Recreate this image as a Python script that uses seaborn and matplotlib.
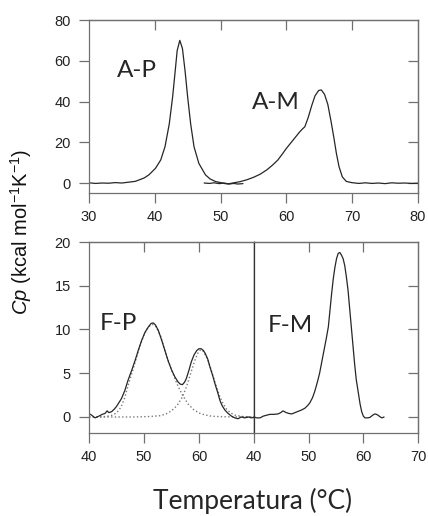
import numpy as np
import pandas as pd
import matplotlib
matplotlib.use("Agg")
import matplotlib.pyplot as plt
import seaborn as sns

# ---- DSC traces: temperature (°C) and excess heat capacity (kcal mol-1 K-1) ----
ap_T = [30, 31, 32, 33, 34, 35, 36, 37, 37.6, 38.4, 39.1, 40.1, 40.9, 41.55, 42.2, 42.7,
        43.1, 43.4, 43.8, 44.2, 44.6, 45.0, 45.45, 45.96, 46.7, 47.7, 48.4, 49.25, 50.0,
        50.7, 51.3, 52.0, 52.6, 53.4]
ap_cp = [0.1, -0.2, 0.0, -0.1, 0.2, 0.0, 0.4, 0.8, 1.5, 2.5, 4.0, 7.2, 11.3, 17.8, 29, 42,
         55, 65, 70, 66, 55, 42, 29, 17.8, 9.6, 4.0, 2.0, 0.7, 0.2, -0.3, -0.5, -0.2, -0.5, -0.3]

am_T = [47.5, 48.3, 49, 49.8, 50.5, 51.2, 52.0, 52.95, 54, 55, 56, 57, 57.9, 58.7, 59.4, 60,
        60.5, 61, 61.5, 62, 62.4, 62.8, 63.3, 63.85, 64.35, 64.9, 65.3, 65.8, 66.3, 66.8, 67.2,
        67.6, 68.0, 68.5, 69.1, 69.9, 71, 72, 73, 74, 75, 76, 77, 78, 79, 80]
am_cp = [0.0, -0.2, 0.1, -0.3, 0.0, -0.4, 0.1, 0.65, 1.6, 2.8, 4.3, 6.4, 8.8, 11.3, 14.3, 17,
         19, 21, 23, 25, 26.4, 27.6, 32, 38, 42.8, 45.4, 45.7, 43.5, 38.5, 30, 22.5,
         14.5, 8.0, 3.0, 0.8, 0.2, -0.2, 0.1, -0.2, 0.0, -0.3, 0.1, -0.1, 0.0, -0.2, -0.1]

fp_T = [40, 40.5, 41.1, 41.8, 42.4, 42.9, 43.3, 43.6, 44.1, 44.6, 45.0, 45.9, 46.5, 47.1, 47.8,
        48.4, 49.0, 49.6, 50.2, 50.8, 51.3, 51.7, 52.1, 52.6, 53.2, 53.8, 54.4, 55.0, 55.6,
        56.2, 56.6, 57.0, 57.4, 57.7, 58.2, 58.6, 59.1, 59.6, 60.0, 60.4, 60.8, 61.1, 61.6,
        62.0, 62.5, 62.9, 63.4, 63.8, 64.2, 64.7, 65.3, 65.9, 66.5, 67.1, 67.7, 68.3, 69, 69.5, 70]
fp_cp = [0.4, 0.2, -0.1, 0.1, 0.3, 0.4, 0.7, 0.5, 0.6, 0.9, 1.2, 2.1, 3.0, 4.2, 5.4,
         6.5, 7.7, 8.8, 9.7, 10.3, 10.7, 10.75, 10.5, 9.9, 8.8, 7.6, 6.4, 5.4, 4.6,
         4.0, 3.75, 3.7, 4.0, 4.4, 5.4, 6.3, 7.1, 7.6, 7.8, 7.8, 7.6, 7.3, 6.6,
         5.7, 4.7, 3.8, 2.8, 1.9, 1.3, 0.8, 0.4, 0.1, -0.1, -0.2, 0.0, -0.1, 0.0, -0.1, -0.05]

# deconvolved components of F-P
fp1_T = [40, 42, 43, 44, 45, 45.8, 46.5, 47.1, 47.8, 48.4, 49.2, 50, 50.8, 51.5, 52.2, 53,
         53.6, 54.2, 55, 55.6, 56.2, 57, 58, 59, 60, 61, 62, 63, 65, 70]
fp1_cp = [0, 0.02, 0.05, 0.15, 0.45, 1.1, 2.2, 3.6, 5.0, 6.3, 8.0, 9.4, 10.3, 10.6, 10.3, 9.3,
          8.0, 6.8, 5.4, 4.4, 3.5, 2.5, 1.5, 0.85, 0.45, 0.25, 0.12, 0.06, 0.02, 0]
fp2_T = [40, 48, 51, 53, 54, 55, 56, 57, 57.8, 58.5, 59.2, 59.8, 60.3, 60.8, 61.4, 62, 62.6,
         63.2, 63.8, 64.4, 65, 65.8, 66.6, 68, 70]
fp2_cp = [0, 0, 0.05, 0.15, 0.35, 0.7, 1.3, 2.3, 3.6, 5.0, 6.4, 7.3, 7.7, 7.5, 6.8, 5.8, 4.6,
          3.4, 2.3, 1.5, 0.9, 0.45, 0.2, 0.05, 0]

fm_T = [40, 40.5, 41.1, 41.7, 42.3, 42.9, 43.6, 44.4, 44.9, 45.3, 45.6, 45.9, 46.4, 46.9, 47.5,
        48.1, 48.7, 49.3, 49.8, 50.2, 50.7, 51.1, 51.6, 52.0, 52.4, 52.8, 53.2, 53.6, 53.9,
        54.2, 54.5, 54.8, 55.1, 55.4, 55.7, 56.0, 56.3, 56.6, 56.9, 57.2, 57.5, 57.8, 58.1,
        58.4, 58.7, 59.1, 59.4, 59.7, 60.0, 60.3, 60.8, 61.2, 61.7, 62.1, 62.4, 62.7, 63.1,
        63.4, 63.8]
fm_cp = [0.0, -0.1, -0.1, 0.1, 0.2, 0.3, 0.3, 0.35, 0.5, 0.7, 0.6, 0.5, 0.4, 0.35, 0.5,
         0.65, 0.8, 1.0, 1.3, 1.6, 2.2, 2.9, 4.0, 5.0, 6.3, 7.6, 8.9, 10.3, 12.2,
         14.1, 15.8, 17.1, 18.1, 18.7, 18.8, 18.5, 18.1, 17.3, 16.0, 14.5, 12.4, 10.3, 8.2,
         6.1, 4.3, 2.7, 1.5, 0.6, 0.1, -0.1, -0.1, -0.05, 0.2, 0.35, 0.3, 0.2, 0.0,
         -0.1, 0.0]

top_xticks = [30, 40, 50, 60, 70, 80]
top_yticks = [0, 20, 40, 60, 80]
fp_xticks = [40, 50, 60]
fm_xticks = [40, 50, 60, 70]
bot_yticks = [0, 5, 10, 15, 20]

sns.set_style("ticks")
plt.rcParams["font.family"] = ["Liberation Sans", "DejaVu Sans"]
plt.rcParams["mathtext.fontset"] = "custom"
plt.rcParams["mathtext.rm"] = "Liberation Sans"
plt.rcParams["mathtext.it"] = "Liberation Sans:italic"

W, H = 428, 516
fig = plt.figure(figsize=(W / 100, H / 100), dpi=100)

def rect(l, r, t, b):
    return [l / W, 1 - b / H, (r - l) / W, (b - t) / H]

ax_top = fig.add_axes(rect(89, 418, 20, 193))
ax_fp = fig.add_axes(rect(89, 254, 242, 433))
ax_fm = fig.add_axes(rect(254, 418, 242, 433))

line_col = "#262626"
axis_col = "#707070"
tick_col = "#222222"
lab_font = ["Lato", "DejaVu Sans"]

def draw(ax, T, cp, ls="-", col=line_col, lw=0.9):
    df = pd.DataFrame({"T": T, "cp": cp})
    sns.lineplot(data=df, x="T", y="cp", ax=ax, color=col, linewidth=lw,
                 linestyle=ls, estimator=None, sort=False)

draw(ax_top, ap_T, ap_cp)
draw(ax_top, am_T, am_cp)
draw(ax_fp, fp1_T, fp1_cp, ls=":", col="#7a7a7a", lw=1.0)
draw(ax_fp, fp2_T, fp2_cp, ls=":", col="#7a7a7a", lw=1.0)
draw(ax_fp, fp_T, fp_cp)
draw(ax_fm, fm_T, fm_cp)

def style(ax, xlim, ylim, xticks, yticks, top_ticks, right_ticks, left=True):
    ax.set_xlim(*xlim)
    ax.set_ylim(*ylim)
    ax.set_xticks(xticks)
    ax.set_yticks(yticks if left else [])
    ax.set_xlabel("")
    ax.set_ylabel("")
    for s in ax.spines.values():
        s.set_visible(True)
        s.set_color(axis_col)
        s.set_linewidth(0.9)
    ax.tick_params(axis="both", direction="out", length=7, width=0.9, color=axis_col,
                   labelsize=10.5, labelcolor=tick_col, pad=5)
    ax.tick_params(axis="y", pad=6)
    sx = ax.secondary_xaxis("top")
    sx.set_xticks(top_ticks)
    sx.tick_params(direction="in", length=7, width=0.9, color=axis_col, labeltop=False)
    sx.spines["top"].set_color(axis_col)
    sx.spines["top"].set_linewidth(0.9)
    sy = ax.secondary_yaxis("right")
    sy.set_yticks(right_ticks)
    sy.tick_params(direction="in", length=7, width=0.9, color=axis_col, labelright=False)
    sy.spines["right"].set_color(axis_col)
    sy.spines["right"].set_linewidth(0.9)

style(ax_top, (30, 80), (-4.9, 80), top_xticks, top_yticks, [40, 50, 60, 70], [0, 20, 40, 60])
style(ax_fp, (40, 70), (-1.83, 20), fp_xticks, bot_yticks, [50, 60], [])
style(ax_fm, (40, 70), (-1.83, 20), fm_xticks, bot_yticks, [50, 60], [0, 5, 10, 15], left=False)
ax_fm.spines["left"].set_color("#333333")
ax_fp.spines["right"].set_color("#333333")

ax_top.text(34.25, 52, "A-P", family=lab_font, fontsize=17.5, ha="left", va="baseline")
ax_top.text(54.8, 36.3, "A-M", family=lab_font, fontsize=17.5, ha="left", va="baseline")
ax_fp.text(42.0, 9.9, "F-P", family=lab_font, fontsize=17.5, ha="left", va="baseline")
ax_fm.text(42.6, 9.75, "F-M", family=lab_font, fontsize=17.5, ha="left", va="baseline")

fig.text(21 / W, 1 - 232 / H, r"$\mathit{Cp}$ (kcal mol$^{-1}$K$^{-1}$)", rotation=90,
         ha="center", va="center", fontsize=14.5, color="#111111")
fig.text(253 / W, 1 - 509 / H, "Temperatura (°C)", family=lab_font, fontsize=19,
         ha="center", va="baseline")

fig.savefig("out.png", dpi=100)
